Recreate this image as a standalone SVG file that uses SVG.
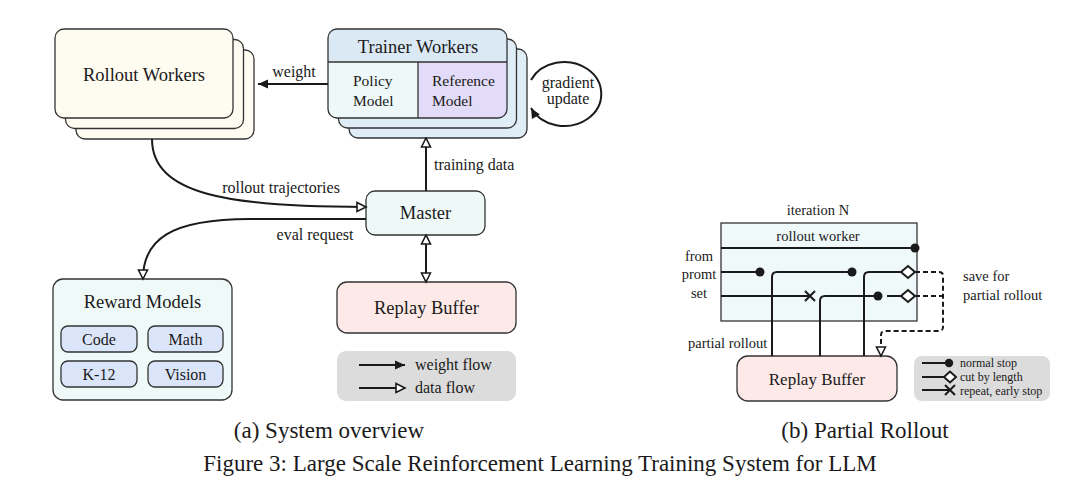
<svg xmlns="http://www.w3.org/2000/svg" width="1080" height="500" viewBox="0 0 1080 500">
<style>
text{font-family:"Liberation Serif","Times New Roman",serif;fill:#1a1a1a}
.box{stroke:#333;stroke-width:1.3}
.ln{fill:none;stroke:#1a1a1a;stroke-width:2}
.dash{fill:none;stroke:#1a1a1a;stroke-width:2;stroke-dasharray:5 3}
.t18{font-size:18.5px}
.t16{font-size:16px}
.t15{font-size:15.5px}
.t14{font-size:14.5px}
.t12{font-size:12px}
.cap{font-size:23px}
.mid{text-anchor:middle}
.dot{fill:#1a1a1a}
.dia{fill:#fff;stroke:#1a1a1a;stroke-width:2}
</style>
<defs>
<marker id="fa" markerUnits="userSpaceOnUse" markerWidth="12" markerHeight="12" refX="11" refY="6" orient="auto">
<path d="M1,1.5 L11,6 L1,10.5 z" fill="#1a1a1a"/>
</marker>
<marker id="ha" markerUnits="userSpaceOnUse" markerWidth="12" markerHeight="12" refX="10.5" refY="6" orient="auto-start-reverse">
<path d="M1.5,1.5 L10.5,6 L1.5,10.5 z" fill="#fff" stroke="#1a1a1a" stroke-width="1.6"/>
</marker>
</defs>

<!-- (a) System overview -->
<g id="rollout-workers">
<rect class="box" x="76" y="50" width="178" height="89" rx="9" fill="#fefbf0"/>
<rect class="box" x="65.5" y="39.5" width="178" height="89" rx="9" fill="#fefbf0"/>
<rect class="box" x="55" y="29" width="178" height="89" rx="9" fill="#fefbf0"/>
<text class="t18 mid" x="144" y="81">Rollout Workers</text>
</g>

<g id="trainer-workers">
<rect class="box" x="349" y="49" width="178" height="89" rx="9" fill="#dfedf7"/>
<rect class="box" x="338.5" y="39" width="178" height="89" rx="9" fill="#dfedf7"/>
<path d="M418,62 H507 V109 Q507,118 498,118 H418 Z" fill="#e2dcf8"/>
<path d="M418,62 H328 V109 Q328,118 337,118 H418 Z" fill="#eef8f8"/>
<path d="M328,62 V38 Q328,29 337,29 H498 Q507,29 507,38 V62 Z" fill="#dbe9f5"/>
<rect x="328" y="29" width="179" height="89" rx="9" fill="none" stroke="#333" stroke-width="1.3"/>
<line x1="328" y1="62" x2="507" y2="62" stroke="#333" stroke-width="1.3"/>
<line x1="418" y1="62" x2="418" y2="118" stroke="#333" stroke-width="1.3"/>
<text class="t18 mid" x="418" y="53">Trainer Workers</text>
<text class="t15" x="353" y="86">Policy</text>
<text class="t15" x="353" y="106">Model</text>
<text class="t15" x="432" y="86">Reference</text>
<text class="t15" x="432" y="106">Model</text>
</g>

<g id="master">
<rect class="box" x="366" y="191" width="119" height="44" rx="9" fill="#eef8f7"/>
<text class="t18 mid" x="425.5" y="219">Master</text>
</g>

<g id="reward-models">
<rect class="box" x="53" y="279" width="179" height="121" rx="10" fill="#eff9f8"/>
<text class="t18 mid" x="142.5" y="308">Reward Models</text>
<rect class="box" x="61" y="326" width="76" height="26" rx="7" fill="#dbe5fa"/>
<rect class="box" x="148" y="326" width="75" height="26" rx="7" fill="#dbe5fa"/>
<rect class="box" x="61" y="361" width="76" height="26" rx="7" fill="#dbe5fa"/>
<rect class="box" x="148" y="361" width="75" height="26" rx="7" fill="#dbe5fa"/>
<text class="t16 mid" x="99" y="345">Code</text>
<text class="t16 mid" x="185.5" y="345">Math</text>
<text class="t16 mid" x="99" y="380">K-12</text>
<text class="t16 mid" x="185.5" y="380">Vision</text>
</g>

<g id="replay-buffer-a">
<rect class="box" x="337" y="282" width="179" height="51" rx="10" fill="#fde9e7"/>
<text class="t18 mid" x="426.5" y="314">Replay Buffer</text>
</g>

<g id="legend-a">
<rect x="337" y="351" width="179" height="50" rx="9" fill="#dcdcdc"/>
<line class="ln" x1="359" y1="365" x2="405" y2="365" marker-end="url(#fa)"/>
<line class="ln" x1="359" y1="388" x2="405" y2="388" marker-end="url(#ha)"/>
<text class="t16" x="415" y="370">weight flow</text>
<text class="t16" x="415" y="393">data flow</text>
</g>

<g id="connectors-a">
<line class="ln" x1="328" y1="84" x2="258" y2="84" marker-end="url(#fa)"/>
<path class="ln" d="M531,80 A37,32 0 1 1 531,108" marker-end="url(#fa)"/>
<line class="ln" x1="426" y1="191" x2="426" y2="138" marker-end="url(#ha)"/>
<path class="ln" d="M152,139 C152,195 230,207 366,207" marker-end="url(#ha)"/>
<path class="ln" d="M366,219 H250 C170,219 143,240 143,279" marker-end="url(#ha)"/>
<line class="ln" x1="426" y1="235" x2="426" y2="282" marker-start="url(#ha)" marker-end="url(#ha)"/>
</g>
<g id="labels-a">
<text class="t16 mid" x="294" y="77">weight</text>
<text class="t16 mid" x="568" y="88">gradient</text>
<text class="t16 mid" x="568" y="104">update</text>
<text class="t16" x="434" y="170">training data</text>
<text class="t16 mid" x="281" y="193">rollout trajectories</text>
<text class="t16 mid" x="315" y="240">eval request</text>
</g>
<text class="cap mid" x="329" y="438">(a) System overview</text>

<!-- (b) Partial Rollout -->
<text class="t14 mid" x="818" y="215">iteration N</text>
<g id="rollout-worker-b">
<rect class="box" x="721" y="223" width="196" height="98" fill="#eff9f9"/>
<text class="t14 mid" x="818" y="241">rollout worker</text>
</g>
<g id="replay-buffer-b">
<rect class="box" x="737" y="356" width="160" height="45" rx="11" fill="#fde9e7"/>
<text class="mid" x="817" y="385" font-size="17px">Replay Buffer</text>
</g>
<g id="legend-b">
<rect x="914" y="356" width="136" height="45" rx="8" fill="#dcdcdc"/>
<line class="ln" x1="922" y1="363" x2="949" y2="363"/>
<circle class="dot" cx="949" cy="363" r="4.2"/>
<line class="ln" x1="922" y1="377" x2="944" y2="377"/>
<path class="dia" d="M944,377 L950,371.5 L956,377 L950,382.5 Z"/>
<line class="ln" x1="922" y1="390" x2="950" y2="390"/>
<path class="ln" d="M945,385 L955,395 M955,385 L945,395"/>
<text class="t12" x="960" y="367">normal stop</text>
<text class="t12" x="960" y="381">cut by length</text>
<text class="t12" x="960" y="394.5">repeat, early stop</text>
</g>
<g id="connectors-b">
<line class="ln" x1="721" y1="248" x2="915" y2="248"/>
<circle class="dot" cx="915" cy="248" r="4.5"/>
<line class="ln" x1="721" y1="272" x2="760" y2="272"/>
<circle class="dot" cx="760" cy="272" r="4.5"/>
<path class="ln" d="M772,356 V277 Q772,272 777,272 H852"/>
<circle class="dot" cx="852" cy="272" r="4.5"/>
<path class="ln" d="M864,356 V277 Q864,272 869,272 H901"/>
<path class="dia" d="M901,272 L908,266 L915,272 L908,278 Z"/>
<line class="ln" x1="721" y1="296" x2="810" y2="296"/>
<path class="ln" d="M805,291 L815,301 M815,291 L805,301"/>
<path class="ln" d="M820,356 V301 Q820,296 825,296 H878"/>
<circle class="dot" cx="878" cy="296" r="4.5"/>
<line class="ln" x1="887" y1="296" x2="901" y2="296"/>
<path class="dia" d="M901,296 L908,290 L915,296 L908,302 Z"/>
<path class="dash" d="M915,272 H939 Q943,272 943,276 V327 Q943,331 939,331 H885 Q881,331 881,335 V356" marker-end="url(#ha)"/>
<line class="dash" x1="915" y1="296" x2="943" y2="296"/>
</g>
<g id="labels-b">
<text class="t14 mid" x="699" y="261">from</text>
<text class="t14 mid" x="699" y="279">promt</text>
<text class="t14 mid" x="699" y="298">set</text>
<text class="t14" x="963" y="281">save for</text>
<text class="t14" x="963" y="300">partial rollout</text>
<text class="t14" x="688" y="348">partial rollout</text>
</g>
<text class="cap mid" x="865" y="438">(b) Partial Rollout</text>

<text class="cap mid" x="540" y="471">Figure 3: Large Scale Reinforcement Learning Training System for LLM</text>
</svg>
